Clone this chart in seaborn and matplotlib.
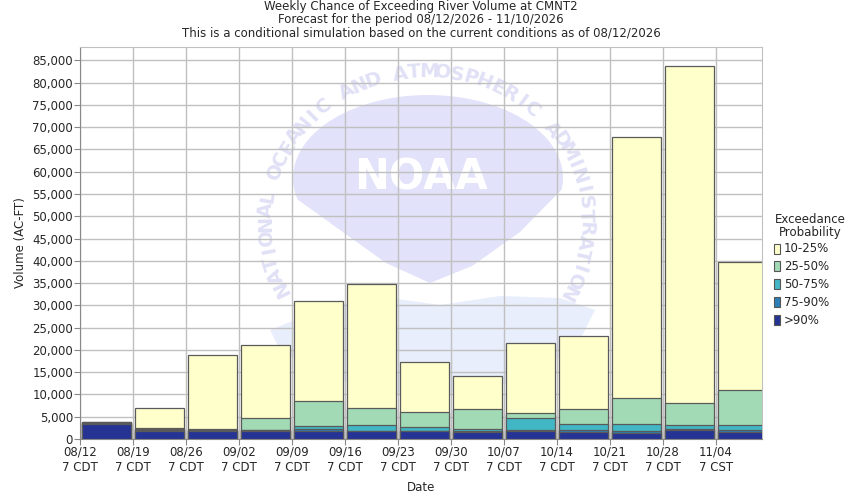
import numpy as np
import pandas as pd
import matplotlib
matplotlib.use('Agg')
import matplotlib.pyplot as plt
import seaborn as sns
from matplotlib.patches import Polygon

# semanas da previsão
dates = ['08/12', '08/19', '08/26', '09/02', '09/09', '09/16', '09/23',
         '09/30', '10/07', '10/14', '10/21', '10/28', '11/04']
zones = ['CDT'] * 12 + ['CST']

# volumes (AC-FT) por probabilidade de excedência
p10_25 = [3900, 6900, 18800, 21100, 31000, 34800, 17300, 14150, 21600, 23150, 67800, 83750, 39800]
p25_50 = [3750, 2400, 2200, 4700, 8500, 6900, 6000, 6670, 5840, 6670, 9150, 8000, 10950]
p50_75 = [3650, 2150, 2050, 2050, 2900, 3080, 2630, 2180, 4650, 3370, 3370, 3080, 3080]
p75_90 = [3550, 2000, 1950, 1950, 2250, 1900, 1900, 1750, 2020, 2000, 1800, 2180, 2000]
p90 = [3350, 1850, 1800, 1850, 1900, 1700, 1700, 1650, 1850, 1600, 1400, 1950, 1570]

df = pd.DataFrame({'date': dates, '10-25%': p10_25, '25-50%': p25_50,
                   '50-75%': p50_75, '75-90%': p75_90, '>90%': p90})

layers = ['10-25%', '25-50%', '50-75%', '75-90%', '>90%']
colors = ['#FFFFCC', '#A1DAB4', '#41B6C4', '#2C7FB8', '#253494']

sns.set_style('white')
plt.rcParams['font.family'] = ['DejaVu Sans']

W, H = 850, 500
fig = plt.figure(figsize=(8.5, 5), dpi=100)
ax = fig.add_axes([80/W, 61/H, 682/W, 392/H])
tf = fig.transFigure


def px(x, y):
    # pixel (a partir do topo) -> fração da figura
    return (x / W, 1 - y / H)


# marca d'água NOAA (aproximada), atrás da grade
t = np.radians(np.linspace(195, -8, 60))
upper = [px(428 + 135*np.cos(a), 178 - 83*np.sin(a)) for a in t]
lower = [px(*p) for p in [(520, 232), (472, 266), (430, 283), (386, 263), (340, 230)]]
ax.add_patch(Polygon(upper + lower, closed=True, transform=tf,
                     facecolor='#E2E2FA', edgecolor='none', zorder=0.1))
wave = [px(*p) for p in [(270, 330), (330, 306), (390, 298), (440, 305), (500, 296),
                         (560, 298), (595, 310), (580, 340), (540, 372), (480, 392),
                         (390, 394), (320, 374), (280, 350)]]
ax.add_patch(Polygon(wave, closed=True, transform=tf,
                     facecolor='#E8EEFB', edgecolor='none', zorder=0.1))
ax.text(421/W, 1 - 178/H, 'NOAA', transform=tf, ha='center', va='center', fontsize=30,
        fontweight='bold', color='white', zorder=0.2)

ring = 'NATIONAL OCEANIC AND ATMOSPHERIC ADMINISTRATION'
angs = np.linspace(206, -28, len(ring))
for ch, a in zip(ring, angs):
    r = np.radians(a)
    ax.text(*px(426 + 160*np.cos(r), 222 - 150*np.sin(r)), ch, transform=tf,
            ha='center', va='center', rotation=a - 90, fontsize=14,
            fontweight='bold', color='#E0E0F6', zorder=0.2)

for lay, col in zip(layers, colors):
    sns.barplot(data=df, x='date', y=lay, color=col, edgecolor='#5A5A5A',
                linewidth=0.9, width=0.91, saturation=1, ax=ax, zorder=3)

ax.set_xlim(-0.5, 12.37)
ax.set_ylim(0, 88000)
ax.set_xticks(np.arange(13) - 0.5)
ax.set_xticklabels([f'{d}\n7 {z}' for d, z in zip(dates, zones)], fontsize=8.5)
ax.set_yticks(np.arange(0, 85001, 5000))
ax.set_yticklabels([f'{v:,}' for v in range(0, 85001, 5000)], fontsize=8.5)
ax.tick_params(axis='both', length=4, color='#888888', pad=1, direction='out',
               bottom=True, left=True)
ax.grid(True, color='#C0C0C0', linewidth=1)
for gl in ax.get_xgridlines() + ax.get_ygridlines():
    gl.set_zorder(0.5)
for s in ax.spines.values():
    s.set_color('#C0C0C0')
ax.spines['left'].set_color('#888888')
ax.spines['bottom'].set_color('#888888')

ax.set_xlabel('Date', fontsize=8.5, labelpad=5)
ax.set_ylabel('Volume (AC-FT)', fontsize=8.5, labelpad=4)

fig.text(421/W, 1 - 20/H, 'Weekly Chance of Exceeding River Volume at CMNT2\n'
         'Forecast for the period 08/12/2026 - 11/10/2026\n'
         'This is a conditional simulation based on the current conditions as of 08/12/2026',
         ha='center', va='center', fontsize=8.5, linespacing=1.05)

# legenda
fig.text(810/W, 1 - 226/H, 'Exceedance\nProbability', ha='center', va='center',
         fontsize=8.5, linespacing=1.0)
for i, (lay, col) in enumerate(zip(layers, colors)):
    y = 1 - (249 + i * 17.8) / H
    fig.patches.append(plt.Rectangle((774/W, y - 4.5/H), 6/W, 10/H,
                                     transform=tf, facecolor=col,
                                     edgecolor='#555555', linewidth=0.8))
    fig.text(784/W, y, lay, ha='left', va='center', fontsize=8.5)

fig.savefig('out.png', dpi=100)
